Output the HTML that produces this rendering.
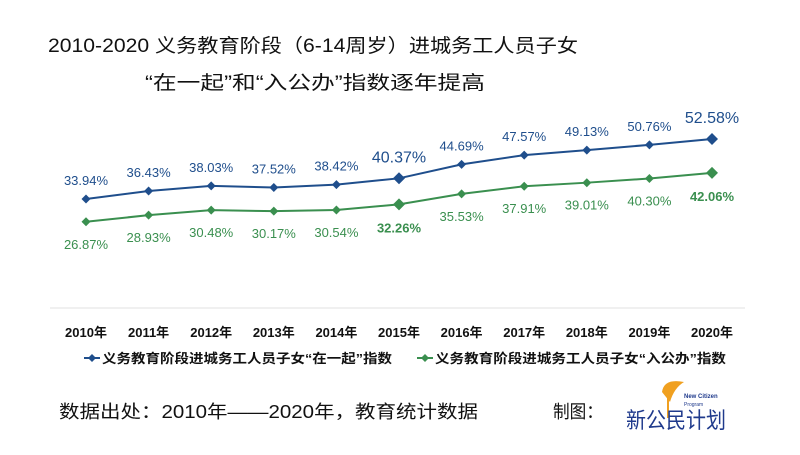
<!DOCTYPE html>
<html><head><meta charset="utf-8"><style>
body{margin:0;background:#fff;}
svg text{font-family:"Liberation Sans","Noto Sans CJK SC",sans-serif;}
</style></head><body>
<svg id="c" width="800" height="450">
<text x="48" y="52" font-size="19" fill="#111" textLength="530" lengthAdjust="spacingAndGlyphs">2010-2020 义务教育阶段（6-14周岁）进城务工人员子女</text>
<text x="145" y="89" font-size="19" fill="#111" textLength="340" lengthAdjust="spacingAndGlyphs">“在一起”和“入公办”指数逐年提高</text>
<line x1="50" y1="308" x2="745" y2="308" stroke="#e0e0e0"/>
<g id="marks"></g>
<g>
<line x1="84" y1="358" x2="100" y2="358" stroke="#1f4e8c" stroke-width="2"/><path d="M92 354L96 358L92 362L88 358Z" fill="#1f4e8c"/>
<text x="102" y="363" font-size="13" font-weight="bold" fill="#111" textLength="290" lengthAdjust="spacingAndGlyphs">义务教育阶段进城务工人员子女“在一起”指数</text>
<line x1="417" y1="358" x2="433" y2="358" stroke="#3a8f4f" stroke-width="2"/><path d="M425 354L429 358L425 362L421 358Z" fill="#3a8f4f"/>
<text x="435" y="363" font-size="13" font-weight="bold" fill="#111" textLength="291" lengthAdjust="spacingAndGlyphs">义务教育阶段进城务工人员子女“入公办”指数</text>
</g>
<text x="59" y="418" font-size="18" fill="#111" textLength="419" lengthAdjust="spacingAndGlyphs">数据出处：2010年——2020年，教育统计数据</text>
<text x="553" y="418" font-size="18" fill="#111" textLength="50" lengthAdjust="spacingAndGlyphs">制图：</text>
<g>
<path d="M662 392 Q664 378 684 382 Q674 388 670 402 Z" fill="#f0a020"/>
<line x1="668" y1="395" x2="668" y2="418" stroke="#f0a020" stroke-width="2"/>
<text x="684" y="398" font-size="6" fill="#1f3a8c" font-weight="bold">New Citizen</text>
<text x="684" y="406" font-size="5" fill="#1f3a8c">Program</text>
<text x="626" y="428" font-size="22" fill="#1f3a8c" textLength="100" lengthAdjust="spacingAndGlyphs" font-family="'Noto Serif CJK SC',serif">新公民计划</text>
</g>
</svg>
<script>
const years=["2010年","2011年","2012年","2013年","2014年","2015年","2016年","2017年","2018年","2019年","2020年"];
const together=[33.94,36.43,38.03,37.52,38.42,40.37,44.69,47.57,49.13,50.76,52.58];
const publicSchool=[26.87,28.93,30.48,30.17,30.54,32.26,35.53,37.91,39.01,40.30,42.06];
const emphasis=[5,10];
const NS="http://www.w3.org/2000/svg";
const g=document.getElementById('marks');
function xs(i){return 86+i*(712-86)/(years.length-1);}
function ys(v){return 308.3-3.22*v;}
function mk(t,a){const e=document.createElementNS(NS,t);for(const k in a)e.setAttribute(k,a[k]);g.appendChild(e);return e;}
years.forEach((y,i)=>{const t=mk('text',{x:xs(i),y:337,'font-size':13,'font-weight':'bold','text-anchor':'middle',fill:'#111'});t.textContent=y;

});
function series(vals,col,name,above){
const p=mk('polyline',{points:vals.map((v,i)=>xs(i)+','+ys(v)).join(' '),fill:'none',stroke:col,'stroke-width':2});


vals.forEach((v,i)=>{const big=emphasis.includes(i);const r=big?6:4.5;const x=xs(i),y=ys(v);
const d=mk('path',{d:`M${x} ${y-r}L${x+r} ${y}L${x} ${y+r}L${x-r} ${y}Z`,fill:col});


const big2=big&&above;const boldG=big&&!above;
const t=mk('text',{x:x,y:above?y-(big?16:14):y+(big?28:27),'font-size':big2?16:13,'font-weight':boldG?'bold':'normal','text-anchor':'middle',fill:col});
t.textContent=v.toFixed(2)+'%';

});}
series(together,'#1f4e8c','together-index',true);
series(publicSchool,'#3a8f4f','public-school-index',false);
</script>
</body></html>
